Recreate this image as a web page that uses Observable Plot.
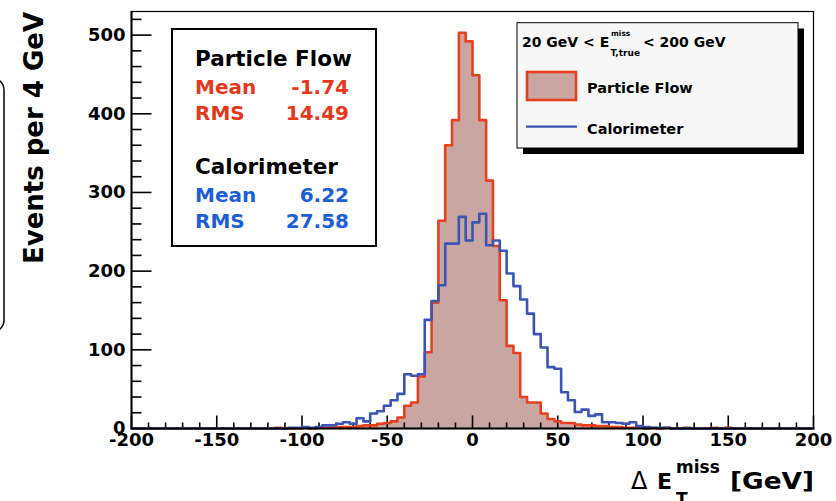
<!DOCTYPE html>
<html>
<head>
<meta charset="utf-8">
<script src="https://cdn.jsdelivr.net/npm/d3@7"></script>
<script src="https://cdn.jsdelivr.net/npm/@observablehq/plot@0.6"></script>
<style>
  html, body { margin: 0; padding: 0; background: white; }
  #chart svg { display: block; }
</style>
</head>
<body>
<div id="chart"></div>
<script>
// Histogram: 100 bins of 4 GeV from -200 to 200
const binLow = -200, binWidth = 4;
const pfCounts = [
  0,0,0,0,0,0,0,0,0,0, 0,0,0,0,0,0,0,0,0,0,
  0,1,0,0,0,1,0,1,1,1, 2,2,2,3,4,4,6,7,9,14,
  29,33,66,97,160,264,360,392,503,492, 449,392,315,232,163,105,96,40,33,33,
  19,12,9,7,7,5,4,4,3,3, 2,2,1,1,1,0,1,0,1,0,
  0,1,0,0,0,1,0,1,0,0, 0,0,0,0,0,0,0,0,0,0
];
const caloCounts = [
  0,0,0,0,0,0,0,0,0,0, 0,0,0,0,0,0,0,0,0,0,
  0,0,0,1,1,2,1,2,4,4, 6,8,6,13,9,19,22,29,36,44,
  69,67,69,138,162,182,235,235,269,239, 262,273,233,239,226,197,181,164,146,120,
  103,78,76,46,36,21,24,16,18,8, 8,7,6,8,3,2,1,1,1,0,
  0,0,0,0,0,0,0,0,0,0, 0,0,0,0,0,0,0,0,0,0
];
const xMajorTicks = [-200, -150, -100, -50, 0, 50, 100, 150, 200];
const xMinorTicks = [-190,-180,-170,-160,-140,-130,-120,-110,-90,-80,-70,-60,-40,-30,-20,-10,
                     10,20,30,40,60,70,80,90,110,120,130,140,160,170,180,190];
const yMajorTicks = [0, 100, 200, 300, 400, 500];
const yMinorTicks = [20,40,60,80,120,140,160,180,220,240,260,280,320,340,360,380,420,440,460,480,520];
const statsPF = {title: "Particle Flow", mean: "-1.74", rms: "14.49"};
const statsCalo = {title: "Calorimeter", mean: "6.22", rms: "27.58"};

const RED = "#e8401f", FILL = "#c9a6a2", BLUE = "#3a55b4";
const RED_TXT = "#e6391c", BLUE_TXT = "#1c5fd8";

function steps(counts) {
  const pts = counts.map((c, i) => ({x: binLow + i * binWidth, y: c}));
  pts.push({x: binLow + counts.length * binWidth, y: counts[counts.length - 1]});
  return pts;
}
const pf = steps(pfCounts), calo = steps(caloCounts);

const W = 836, H = 501, mL = 131, mR = 23, mT = 11, mB = 73;
const xDom = [-200, 200], yDom = [0, 530];
const fW = W - mL - mR, fH = H - mT - mB;
// tick lengths in pixels, converted to data units of the perpendicular axis
const xu = (xDom[1] - xDom[0]) / fW, yu = (yDom[1] - yDom[0]) / fH;
const xTickRows = xMajorTicks.map(v => ({x: v, len: 13 * yu}))
  .concat(xMinorTicks.map(v => ({x: v, len: 6 * yu})));
const yTickRows = yMajorTicks.map(v => ({y: v, len: 20 * xu}))
  .concat(yMinorTicks.map(v => ({y: v, len: 10 * xu})));

const svg = Plot.plot({
  width: W, height: H,
  marginLeft: mL, marginRight: mR, marginTop: mT, marginBottom: mB,
  style: "font-family: 'DejaVu Sans'; font-size: 18px; font-weight: bold; background: white; color: black;",
  x: {domain: xDom},
  y: {domain: yDom},
  marks: [
    Plot.areaY(pf, {x: "x", y: "y", curve: "step-after", fill: FILL}),
    Plot.link(xTickRows, {x1: "x", x2: "x", y1: 0, y2: "len", stroke: "black", strokeWidth: 1.6}),
    Plot.link(yTickRows, {y1: "y", y2: "y", x1: xDom[0], x2: d => xDom[0] + d.len, stroke: "black", strokeWidth: 1.6}),
    Plot.line(pf, {x: "x", y: "y", curve: "step-after", stroke: RED, strokeWidth: 2.6}),
    Plot.line(calo, {x: "x", y: "y", curve: "step-after", stroke: BLUE, strokeWidth: 2.6}),
    Plot.frame({stroke: "black", strokeWidth: 1.2}),
    Plot.ruleX([-200], {stroke: "black", strokeWidth: 2}),
    Plot.ruleY([0], {stroke: "black", strokeWidth: 2}),
    Plot.axisX({ticks: xMajorTicks, tickSize: 0, tickPadding: 5, label: null, tickFormat: d => String(d), fontSize: 18, fontWeight: "bold"}),
    Plot.axisY({ticks: yMajorTicks, tickSize: 0, tickPadding: 6, label: null, tickFormat: d => String(d), fontSize: 18, fontWeight: "bold"})
  ]
});

const root = d3.select(svg);
const g = root.append("g")
  .attr("font-family", "DejaVu Sans")
  .attr("font-weight", "bold")
  .attr("text-anchor", "start");

// left decoration (partial rounded box)
g.append("rect").attr("x", -50).attr("y", 78).attr("width", 54).attr("height", 254)
  .attr("rx", 12).attr("fill", "none").attr("stroke", "black").attr("stroke-width", 1.5);

// Y axis title
g.append("text").attr("transform", "translate(43,138) rotate(-90)")
  .attr("text-anchor", "middle").attr("font-size", 26).attr("fill", "black")
  .text("Events per 4 GeV");

// X axis title
const xt = g.append("g").attr("fill", "black");
xt.append("text").attr("x", 631).attr("y", 489).attr("font-size", 24).attr("font-weight", "normal").text("\u0394");
xt.append("text").attr("x", 657).attr("y", 489).attr("font-size", 22).text("E");
xt.append("text").attr("x", 676).attr("y", 472.5).attr("font-size", 17).text("miss");
xt.append("text").attr("x", 676).attr("y", 505).attr("font-size", 17).text("T");
xt.append("text").attr("x", 730).attr("y", 489).attr("font-size", 23)
  .attr("textLength", 84).attr("lengthAdjust", "spacingAndGlyphs").text("[GeV]");

// Stats box
const sb = g.append("g");
sb.append("rect").attr("x", 172).attr("y", 29).attr("width", 204).attr("height", 217)
  .attr("fill", "white").attr("stroke", "black").attr("stroke-width", 2);
const sx = 195, vx = 349, fs = 20;
function statBlock(s, yb, color) {
  sb.append("text").attr("x", sx).attr("y", yb).attr("font-size", 21.5).attr("fill", "black").text(s.title);
  sb.append("text").attr("x", sx).attr("y", yb + 28).attr("font-size", fs).attr("fill", color).text("Mean");
  sb.append("text").attr("x", vx).attr("y", yb + 28).attr("font-size", fs).attr("fill", color).attr("text-anchor", "end").text(s.mean);
  sb.append("text").attr("x", sx).attr("y", yb + 54).attr("font-size", fs).attr("fill", color).text("RMS");
  sb.append("text").attr("x", vx).attr("y", yb + 54).attr("font-size", fs).attr("fill", color).attr("text-anchor", "end").text(s.rms);
}
statBlock(statsPF, 66, RED_TXT);
statBlock(statsCalo, 174, BLUE_TXT);

// Legend box with shadow
const lg = g.append("g");
lg.append("rect").attr("x", 523).attr("y", 28.5).attr("width", 281).attr("height", 125.5).attr("fill", "black");
lg.append("rect").attr("x", 517).attr("y", 22.7).attr("width", 281).attr("height", 125.3)
  .attr("fill", "#f7f7f7").attr("stroke", "black").attr("stroke-width", 1);
lg.append("text").attr("x", 522).attr("y", 47).attr("font-size", 14).attr("fill", "black").text("20 GeV < E");
lg.append("text").attr("x", 611).attr("y", 36).attr("font-size", 7.5).attr("fill", "black").text("miss");
lg.append("text").attr("x", 610.5).attr("y", 55.5).attr("font-size", 9).attr("fill", "black").text("T,true");
lg.append("text").attr("x", 643).attr("y", 47).attr("font-size", 14).attr("fill", "black").text("< 200 GeV");
lg.append("rect").attr("x", 527).attr("y", 72).attr("width", 49).attr("height", 28)
  .attr("fill", FILL).attr("stroke", RED).attr("stroke-width", 2.6);
lg.append("text").attr("x", 587).attr("y", 92.5).attr("font-size", 14.5).attr("fill", "black").text(statsPF.title);
lg.append("line").attr("x1", 526).attr("x2", 577).attr("y1", 126.7).attr("y2", 126.7)
  .attr("stroke", BLUE).attr("stroke-width", 2.2);
lg.append("text").attr("x", 587).attr("y", 134).attr("font-size", 14.5).attr("fill", "black").text(statsCalo.title);

document.getElementById("chart").appendChild(svg);
</script>
</body>
</html>
